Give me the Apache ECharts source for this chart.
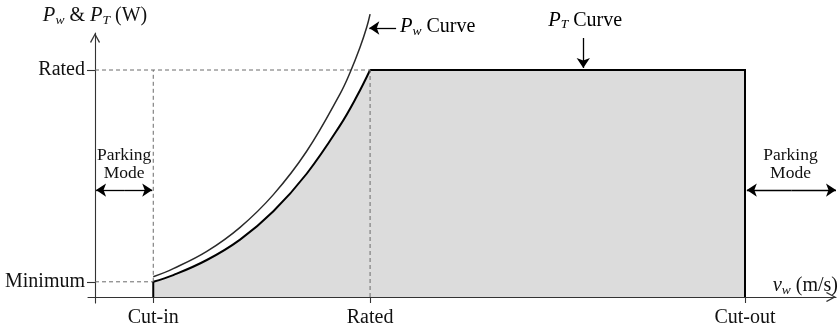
<!DOCTYPE html>
<html>
<head>
<meta charset="utf-8">
<script src="https://cdn.jsdelivr.net/npm/echarts@6/dist/echarts.min.js"></script>
<style>
  html, body { margin: 0; padding: 0; background: #fff; }
  #chart { width: 840px; height: 331px; }
</style>
</head>
<body>
<div id="chart"></div>
<script>
// Wind-speed breakpoints (schematic m/s scale)
const cutInSpeed = 2.24;
const ratedSpeed = 10.58;
const cutOutSpeed = 25;

// Power levels (percent of rated power)
const minimumPower = 6.7;
const ratedPower = 100;

// Axis ticks and their names
const xTickValues = [cutInSpeed, ratedSpeed, cutOutSpeed];
const xTickLabels = ['Cut-in', 'Rated', 'Cut-out'];
const yTickValues = [minimumPower, ratedPower];
const yTickLabels = ['Minimum', 'Rated'];

// Turbine output P_T between cut-in and rated speed
const ptSpeeds = [2.24, 3.01, 4.30, 5.58, 6.86, 8.14, 9.42, 10.07, 10.58];
const ptPowers = [6.7, 9.65, 16.3, 25.3, 37.8, 54.3, 75.5, 88.4, 100];

// Available wind power P_w
const pwSpeeds = [2.24, 3.01, 4.30, 5.58, 6.86, 8.14, 9.42, 9.81, 10.19, 10.45, 10.58];
const pwPowers = [8.9, 12.5, 20.1, 30.7, 45.1, 64.2, 89.4, 98.9, 109.9, 118.8, 124.6];

// Annotation arrows (tail -> head) and label anchors, in data units
const pwArrow = [[11.58, 118.5], [10.55, 118.5]];
const ptArrow = [[18.78, 114.1], [18.78, 100.9]];
const parkLowArrows = [[[1.12, 47.1], [0.04, 47.1]], [[1.12, 47.1], [2.2, 47.1]]];
const parkHighArrows = [[[26.78, 47.1], [25.07, 47.1]], [[26.78, 47.1], [28.5, 47.1]]];
const pwLabelAt = [11.73, 118.9];
const ptLabelAt = [18.85, 121.7];
const parkLowLabelAt = [1.12, 58.6];
const parkHighLabelAt = [26.75, 58.6];

const X_MIN = -0.27, X_MAX = 28.5;
const Y_MIN = -2.64, Y_MAX = 116.3;

const SERIF = '"Liberation Serif", "Times New Roman", serif';
const INK = '#111';
const AXIS = '#333';
const GUIDE = '#6a6a6a';
const FILL = '#dcdcdc';
const FS = 20;

// open chevron used as the axis arrow head
const CHEVRON = 'path://M5,0 L10,9.1 L9.0,10 L5,2.4 L1.0,10 L0,9.1 Z';

const zip = (a, b) => a.map((v, i) => [v, b[i]]);

const mathRich = {
  i: { fontFamily: SERIF, fontStyle: 'italic', fontSize: FS + 0.5, color: INK, lineHeight: 22 },
  s: { fontFamily: SERIF, fontStyle: 'italic', fontSize: 13.5, color: INK, lineHeight: 13, verticalAlign: 'bottom' },
  t: { fontFamily: SERIF, fontSize: FS, color: INK, lineHeight: 22 }
};

const guide = (pts) => ({
  type: 'line',
  data: pts,
  symbol: 'none',
  silent: true,
  z: 3,
  lineStyle: { color: GUIDE, width: 1, type: [4, 3] }
});

const chart = echarts.init(document.getElementById('chart'), null, { renderer: 'canvas' });

const option = {
  animation: false,
  backgroundColor: '#ffffff',
  grid: { left: 88, right: 4, top: 33, bottom: 28, containLabel: false, outerBoundsMode: 'none' },
  xAxis: {
    type: 'value',
    min: X_MIN,
    max: X_MAX,
    splitLine: { show: false },
    axisLine: {
      onZero: true,
      lineStyle: { color: AXIS, width: 1.1 },
      symbol: ['none', CHEVRON],
      symbolSize: [10, 10],
      symbolOffset: [0, -5]
    },
    axisTick: { customValues: xTickValues, length: 6, lineStyle: { color: AXIS, width: 1.1 } },
    axisLabel: {
      customValues: xTickValues,
      formatter: (v) => xTickLabels[xTickValues.indexOf(v)],
      fontFamily: SERIF, fontSize: FS, color: INK, margin: 5
    },
    name: '{i|v}{s|w}{t| (m/s)}',
    nameLocation: 'end',
    nameGap: 2,
    nameMoveOverlap: false,
    nameTextStyle: { align: 'right', verticalAlign: 'bottom', rich: mathRich }
  },
  yAxis: {
    type: 'value',
    min: Y_MIN,
    max: Y_MAX,
    splitLine: { show: false },
    axisLine: {
      onZero: true,
      lineStyle: { color: AXIS, width: 1.1 },
      symbol: ['none', CHEVRON],
      symbolSize: [10, 10],
      symbolOffset: [0, -5]
    },
    axisTick: { customValues: yTickValues, length: 8, lineStyle: { color: AXIS, width: 1.1 } },
    axisLabel: {
      customValues: yTickValues,
      formatter: (v) => yTickLabels[yTickValues.indexOf(v)],
      fontFamily: SERIF, fontSize: FS, color: INK, margin: 3
    },
    name: '{i|P}{s|w}{t| & }{i|P}{s|T}{t| (W)}',
    nameLocation: 'end',
    nameGap: 6,
    nameMoveOverlap: false,
    nameTextStyle: { rich: mathRich }
  },
  series: [
    // shaded region under the turbine output
    {
      name: 'P_T curve',
      type: 'line',
      data: zip(ptSpeeds, ptPowers),
      smooth: 0.4,
      symbol: 'none',
      z: 2,
      lineStyle: { color: '#000', width: 2 },
      areaStyle: { color: FILL, opacity: 1, origin: 0 }
    },
    {
      name: 'P_T rated',
      type: 'line',
      data: [[ratedSpeed, ratedPower], [cutOutSpeed, ratedPower], [cutOutSpeed, 0]],
      symbol: 'none',
      z: 2,
      lineStyle: { color: '#000', width: 2, join: 'miter' },
      areaStyle: { color: FILL, opacity: 1, origin: 0 }
    },
    {
      name: 'P_T cut-in',
      type: 'line',
      data: [[cutInSpeed, 0], [cutInSpeed, minimumPower]],
      symbol: 'none',
      z: 4,
      lineStyle: { color: '#000', width: 2 }
    },
    // dashed guides
    guide([[0, ratedPower], [ratedSpeed, ratedPower]]),
    guide([[ratedSpeed, 0], [ratedSpeed, ratedPower]]),
    guide([[cutInSpeed, minimumPower], [cutInSpeed, ratedPower]]),
    guide([[0, minimumPower], [cutInSpeed, minimumPower]]),
    // available wind power
    {
      name: 'P_w curve',
      type: 'line',
      data: zip(pwSpeeds, pwPowers),
      smooth: 0.4,
      symbol: 'none',
      clip: false,
      z: 5,
      lineStyle: { color: '#2a2a2a', width: 1.5 }
    },
    // annotation arrows
    {
      name: 'annotations',
      type: 'lines',
      coordinateSystem: 'cartesian2d',
      clip: false,
      silent: true,
      z: 6,
      symbol: ['none', 'arrow'],
      symbolSize: [8, 10],
      lineStyle: { color: '#000', width: 1.3, opacity: 1, curveness: 0 },
      data: [pwArrow, ptArrow, ...parkLowArrows, ...parkHighArrows].map((c) => ({ coords: c }))
    }
  ]
};

chart.setOption(option);

// text annotations placed through the chart's coordinate system
const px = (p) => chart.convertToPixel({ gridIndex: 0 }, p);
const pwPos = px(pwLabelAt);
const ptPos = px(ptLabelAt);
const parkLowPos = px(parkLowLabelAt);
const parkHighPos = px(parkHighLabelAt);

const parkStyle = {
  text: 'Parking\nMode',
  fontFamily: SERIF,
  fontSize: 17.5,
  lineHeight: 18,
  fill: INK,
  align: 'center',
  verticalAlign: 'middle'
};

chart.setOption({
  graphic: [
    {
      type: 'text', x: pwPos[0], y: pwPos[1], silent: true,
      style: { text: '{i|P}{s|w}{t| Curve}', rich: mathRich, align: 'left', verticalAlign: 'middle' }
    },
    {
      type: 'text', x: ptPos[0], y: ptPos[1], silent: true,
      style: { text: '{i|P}{s|T}{t| Curve}', rich: mathRich, align: 'center', verticalAlign: 'middle' }
    },
    { type: 'text', x: parkLowPos[0], y: parkLowPos[1], silent: true, style: parkStyle },
    { type: 'text', x: parkHighPos[0], y: parkHighPos[1], silent: true, style: parkStyle }
  ]
});
</script>
</body>
</html>
